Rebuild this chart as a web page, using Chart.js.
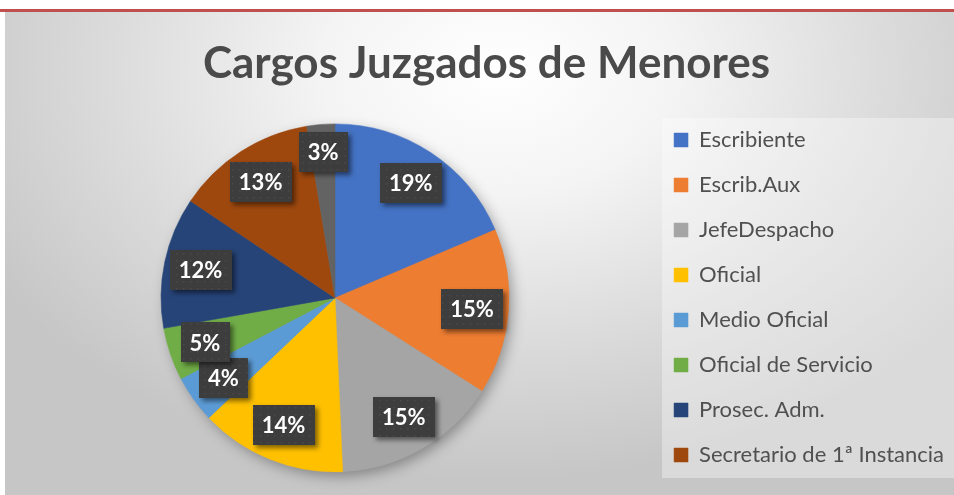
<!DOCTYPE html>
<html>
<head>
<meta charset="utf-8">
<script src="https://cdn.jsdelivr.net/npm/chart.js@4.4.1/dist/chart.umd.min.js"></script>
<style>
  html, body { margin: 0; padding: 0; background: #fff; }
  body { width: 954px; height: 495px; position: relative; overflow: hidden; }
  .topline { position: absolute; left: 0; top: 9px; width: 954px; height: 3px; background: #C0504D; }
  .chart-box {
    position: absolute; left: 5px; top: 12px; width: 949px; height: 483px;
    background: radial-gradient(ellipse 62% 85% at 52% 12%, #ffffff 0%, #f4f4f4 30%, #dcdcdc 65%, #c6c6c6 100%);
  }
</style>
</head>
<body>
<div class="topline"></div>
<div class="chart-box"><canvas id="pie" width="949" height="483"></canvas></div>
<script>
const categories = [
  "Escribiente",
  "Escrib.Aux",
  "JefeDespacho",
  "Oficial",
  "Medio Oficial",
  "Oficial de Servicio",
  "Prosec. Adm.",
  "Secretario de 1ª Instancia",
  "Otros"
];
const values = [18.6, 15.4, 15.3, 13.6, 4.4, 4.9, 12.2, 13.0, 2.6];
const colors = ["#4472C4", "#ED7D31", "#A5A5A5", "#FFC000", "#5B9BD5", "#70AD47", "#264478", "#9E480E", "#636363"];
// the legend in the original only lists the first eight
const legendLabels = categories.slice(0, 8);

// soft shadow under the pie
const pieShadow = {
  id: "pieShadow",
  beforeDatasetsDraw(chart) {
    const arc = chart.getDatasetMeta(0).data[0];
    if (!arc) return;
    const p = arc.getProps(["x", "y", "outerRadius"], true);
    const ctx = chart.ctx;
    ctx.save();
    ctx.shadowColor = "rgba(0,0,0,0.35)";
    ctx.shadowBlur = 14;
    ctx.shadowOffsetX = 4;
    ctx.shadowOffsetY = 5;
    ctx.fillStyle = "#999";
    ctx.beginPath();
    ctx.arc(p.x, p.y, p.outerRadius - 1, 0, Math.PI * 2);
    ctx.fill();
    ctx.restore();
  }
};

// lighter panel behind legend
const legendPanel = {
  id: "legendPanel",
  beforeDraw(chart) {
    const boxes = chart.legend && chart.legend.legendHitBoxes;
    if (!boxes || !boxes.length) return;
    const first = boxes[0];
    const last = boxes[boxes.length - 1];
    const ctx = chart.ctx;
    ctx.save();
    ctx.fillStyle = "rgba(255,255,255,0.35)";
    const left = first.left - 12;
    const top = first.top - 11;
    ctx.fillRect(left, top, chart.width - left, last.top + last.height + 12 - top);
    ctx.restore();
  }
};

function makePattern(ctx) {
  const c = document.createElement("canvas");
  c.width = 7;
  c.height = 7;
  const g = c.getContext("2d");
  g.fillStyle = "#3d3d3d";
  g.fillRect(0, 0, 7, 7);
  g.fillStyle = "#4a4a4a";
  g.fillRect(3, 3, 1.5, 1.5);
  return ctx.createPattern(c, "repeat");
}

// dark boxed percentage labels
const boxLabels = {
  id: "boxLabels",
  afterDatasetsDraw(chart) {
    const ctx = chart.ctx;
    const meta = chart.getDatasetMeta(0);
    const total = values.reduce((a, b) => a + b, 0);
    const pattern = makePattern(ctx);
    ctx.save();
    ctx.font = "bold 22px Lato";
    ctx.textAlign = "center";
    ctx.textBaseline = "middle";
    meta.data.forEach((arc, i) => {
      const p = arc.getProps(["x", "y", "startAngle", "endAngle", "outerRadius"], true);
      const mid = (p.startAngle + p.endAngle) / 2;
      // small slices get pushed a bit further out, like the original
      const share = values[i] / total;
      const r = p.outerRadius * (share < 0.04 ? 0.84 : 0.79);
      const cx = p.x + Math.cos(mid) * r;
      const cy = p.y + Math.sin(mid) * r;
      const text = Math.round(share * 100) + "%";
      const w = ctx.measureText(text).width + 18;
      const h = 40;
      ctx.shadowColor = "rgba(0,0,0,0.5)";
      ctx.shadowBlur = 5;
      ctx.shadowOffsetX = 3;
      ctx.shadowOffsetY = 3;
      ctx.fillStyle = pattern;
      ctx.fillRect(Math.round(cx - w / 2), Math.round(cy - h / 2), Math.round(w), h);
      ctx.shadowColor = "transparent";
      ctx.fillStyle = "#ffffff";
      ctx.fillText(text, cx, cy + 1);
    });
    ctx.restore();
  }
};

const ctx = document.getElementById("pie");

const config = {
  type: "pie",
  data: {
    labels: categories,
    datasets: [
      {
        data: values,
        backgroundColor: colors,
        borderColor: colors,
        borderWidth: 0.5,
        radius: 174
      }
    ]
  },
  options: {
    responsive: false,
    animation: false,
    layout: {
      padding: { left: 14, right: 0, top: 0, bottom: 0 }
    },
    plugins: {
      title: {
        display: true,
        text: "Cargos Juzgados de Menores",
        color: "#4a4a4a",
        font: { family: "Lato", size: 44, weight: "bold" },
        padding: { top: 25, bottom: 11 }
      },
      legend: {
        position: "right",
        align: "start",
        // empty legend title only pushes the items down below the chart title
        title: {
          display: true,
          text: "",
          font: { size: 10 },
          padding: { top: 82, bottom: 0 }
        },
        labels: {
          color: "#505050",
          font: { family: "Lato", size: 22 },
          boxWidth: 14,
          boxHeight: 14,
          padding: 23,
          filter: (item) => legendLabels.includes(item.text)
        }
      },
      tooltip: { enabled: false }
    }
  },
  plugins: [legendPanel, pieShadow, boxLabels]
};

new Chart(ctx, config);
</script>
</body>
</html>
